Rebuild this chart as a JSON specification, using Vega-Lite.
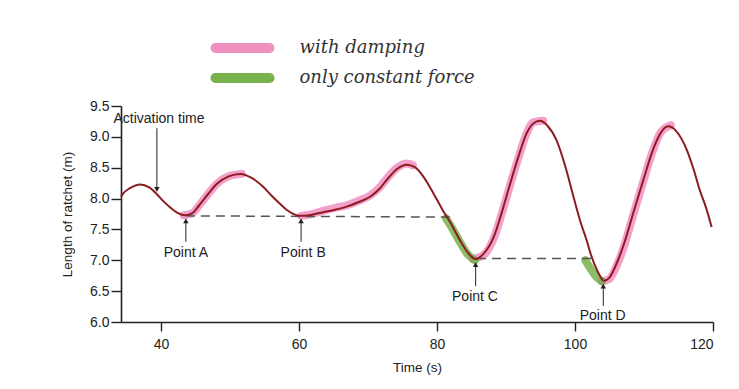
{
  "$schema": "https://vega.github.io/schema/vega-lite/v6.json",
  "width": 592,
  "height": 216,
  "autosize": {"type": "none"},
  "padding": {"left": 121, "top": 106, "right": 26, "bottom": 67},
  "background": "white",
  "config": {
    "view": {"stroke": null},
    "font": "Liberation Sans"
  },
  "datasets": {
    "curve": [
      {"t": 34.2, "L": 8.03}, {"t": 34.5, "L": 8.08}, {"t": 35.5, "L": 8.17}, {"t": 37.0, "L": 8.23},
      {"t": 38.3, "L": 8.18}, {"t": 39.4, "L": 8.07}, {"t": 40.4, "L": 7.95}, {"t": 41.3, "L": 7.86},
      {"t": 42.4, "L": 7.77}, {"t": 43.5, "L": 7.73}, {"t": 44.5, "L": 7.76}, {"t": 45.6, "L": 7.9},
      {"t": 46.8, "L": 8.07}, {"t": 48.1, "L": 8.24}, {"t": 49.8, "L": 8.36}, {"t": 51.5, "L": 8.4},
      {"t": 53.2, "L": 8.33}, {"t": 54.8, "L": 8.19}, {"t": 56.0, "L": 8.05}, {"t": 57.2, "L": 7.92},
      {"t": 58.3, "L": 7.81}, {"t": 59.4, "L": 7.74}, {"t": 60.3, "L": 7.72}, {"t": 61.5, "L": 7.73},
      {"t": 63.5, "L": 7.78}, {"t": 65.2, "L": 7.82}, {"t": 66.9, "L": 7.87}, {"t": 68.6, "L": 7.94},
      {"t": 70.3, "L": 8.03}, {"t": 71.6, "L": 8.15}, {"t": 72.7, "L": 8.3}, {"t": 74.2, "L": 8.48},
      {"t": 75.6, "L": 8.55}, {"t": 76.8, "L": 8.51}, {"t": 78.0, "L": 8.36}, {"t": 79.0, "L": 8.18},
      {"t": 80.0, "L": 7.98}, {"t": 81.0, "L": 7.78}, {"t": 81.9, "L": 7.62}, {"t": 83.3, "L": 7.33},
      {"t": 84.5, "L": 7.12}, {"t": 85.6, "L": 7.02}, {"t": 86.7, "L": 7.1}, {"t": 88.2, "L": 7.37},
      {"t": 89.4, "L": 7.78}, {"t": 90.6, "L": 8.24}, {"t": 91.8, "L": 8.68}, {"t": 93.0, "L": 9.06},
      {"t": 94.0, "L": 9.22}, {"t": 94.9, "L": 9.26}, {"t": 96.0, "L": 9.18}, {"t": 97.3, "L": 8.95},
      {"t": 98.6, "L": 8.52}, {"t": 99.8, "L": 8.02}, {"t": 100.8, "L": 7.62}, {"t": 101.7, "L": 7.32},
      {"t": 102.4, "L": 7.06}, {"t": 103.2, "L": 6.84}, {"t": 104.2, "L": 6.67}, {"t": 105.0, "L": 6.72},
      {"t": 106.0, "L": 6.94}, {"t": 107.2, "L": 7.3}, {"t": 108.4, "L": 7.75}, {"t": 109.9, "L": 8.3},
      {"t": 111.3, "L": 8.79}, {"t": 112.4, "L": 9.06}, {"t": 113.5, "L": 9.17}, {"t": 114.7, "L": 9.09},
      {"t": 116.2, "L": 8.79}, {"t": 117.2, "L": 8.47}, {"t": 118.1, "L": 8.13}, {"t": 119.0, "L": 7.85},
      {"t": 119.8, "L": 7.54}
    ],
    "highlight": [
      {"seg": 1, "kind": "with damping", "t": 43.3, "L": 7.73}, {"seg": 1, "kind": "with damping", "t": 44.5, "L": 7.76},
      {"seg": 1, "kind": "with damping", "t": 45.6, "L": 7.9}, {"seg": 1, "kind": "with damping", "t": 46.8, "L": 8.07},
      {"seg": 1, "kind": "with damping", "t": 48.1, "L": 8.24}, {"seg": 1, "kind": "with damping", "t": 49.8, "L": 8.36},
      {"seg": 1, "kind": "with damping", "t": 51.7, "L": 8.4},
      {"seg": 2, "kind": "with damping", "t": 60.3, "L": 7.72}, {"seg": 2, "kind": "with damping", "t": 61.5, "L": 7.74},
      {"seg": 2, "kind": "with damping", "t": 63.5, "L": 7.8}, {"seg": 2, "kind": "with damping", "t": 65.2, "L": 7.85},
      {"seg": 2, "kind": "with damping", "t": 66.9, "L": 7.89}, {"seg": 2, "kind": "with damping", "t": 68.6, "L": 7.96},
      {"seg": 2, "kind": "with damping", "t": 70.3, "L": 8.05}, {"seg": 2, "kind": "with damping", "t": 71.6, "L": 8.17},
      {"seg": 2, "kind": "with damping", "t": 72.7, "L": 8.32}, {"seg": 2, "kind": "with damping", "t": 74.2, "L": 8.5},
      {"seg": 2, "kind": "with damping", "t": 75.6, "L": 8.57}, {"seg": 2, "kind": "with damping", "t": 76.5, "L": 8.54},
      {"seg": 3, "kind": "with damping", "t": 85.2, "L": 7.02}, {"seg": 3, "kind": "with damping", "t": 86.7, "L": 7.08},
      {"seg": 3, "kind": "with damping", "t": 88.2, "L": 7.35}, {"seg": 3, "kind": "with damping", "t": 89.4, "L": 7.76},
      {"seg": 3, "kind": "with damping", "t": 90.6, "L": 8.22}, {"seg": 3, "kind": "with damping", "t": 91.8, "L": 8.66},
      {"seg": 3, "kind": "with damping", "t": 93.0, "L": 9.06}, {"seg": 3, "kind": "with damping", "t": 94.0, "L": 9.24},
      {"seg": 3, "kind": "with damping", "t": 95.4, "L": 9.26},
      {"seg": 4, "kind": "with damping", "t": 103.9, "L": 6.66}, {"seg": 4, "kind": "with damping", "t": 105.0, "L": 6.7},
      {"seg": 4, "kind": "with damping", "t": 106.0, "L": 6.9}, {"seg": 4, "kind": "with damping", "t": 107.2, "L": 7.26},
      {"seg": 4, "kind": "with damping", "t": 108.4, "L": 7.72}, {"seg": 4, "kind": "with damping", "t": 109.9, "L": 8.28},
      {"seg": 4, "kind": "with damping", "t": 111.3, "L": 8.78}, {"seg": 4, "kind": "with damping", "t": 112.4, "L": 9.07},
      {"seg": 4, "kind": "with damping", "t": 113.9, "L": 9.19},
      {"seg": 5, "kind": "only constant force", "t": 81.3, "L": 7.68}, {"seg": 5, "kind": "only constant force", "t": 82.3, "L": 7.5},
      {"seg": 5, "kind": "only constant force", "t": 83.3, "L": 7.3}, {"seg": 5, "kind": "only constant force", "t": 84.5, "L": 7.09},
      {"seg": 5, "kind": "only constant force", "t": 85.5, "L": 7.0},
      {"seg": 6, "kind": "only constant force", "t": 101.5, "L": 7.0}, {"seg": 6, "kind": "only constant force", "t": 102.4, "L": 6.84},
      {"seg": 6, "kind": "only constant force", "t": 103.2, "L": 6.72}, {"seg": 6, "kind": "only constant force", "t": 103.9, "L": 6.66}
    ],
    "dashes": [
      {"seg": 1, "t": 43.6, "L": 7.72}, {"seg": 1, "t": 82.4, "L": 7.7},
      {"seg": 2, "t": 85.8, "L": 7.03}, {"seg": 2, "t": 102.9, "L": 7.03}
    ],
    "arrows": [
      {"name": "act", "t": 39.4, "L": 9.14, "L2": 8.12},
      {"name": "A", "t": 43.6, "L": 7.3, "L2": 7.66},
      {"name": "B", "t": 60.3, "L": 7.3, "L2": 7.66},
      {"name": "C", "t": 85.6, "L": 6.58, "L2": 6.95},
      {"name": "D", "t": 104.1, "L": 6.26, "L2": 6.6}
    ],
    "heads": [
      {"name": "act", "t": 39.4, "L": 8.15, "dir": "down"},
      {"name": "A", "t": 43.6, "L": 7.64, "dir": "up"},
      {"name": "B", "t": 60.3, "L": 7.64, "dir": "up"},
      {"name": "C", "t": 85.6, "L": 6.93, "dir": "up"},
      {"name": "D", "t": 104.1, "L": 6.58, "dir": "up"}
    ],
    "labels": [
      {"text": "Activation time", "t": 39.7, "L": 9.29},
      {"text": "Point A", "t": 43.6, "L": 7.12},
      {"text": "Point B", "t": 60.6, "L": 7.12},
      {"text": "Point C", "t": 85.5, "L": 6.41},
      {"text": "Point D", "t": 104.0, "L": 6.1}
    ]
  },
  "encoding": {
    "x": {"field": "t", "type": "quantitative", "scale": {"domain": [34.2, 120], "nice": false, "zero": false},
          "axis": {"values": [40, 60, 80, 100, 120], "title": "Time (s)", "grid": false,
                   "domainColor": "#222", "domainWidth": 1.6, "tickColor": "#222", "tickWidth": 1.4, "tickSize": 9,
                   "labelFont": "Liberation Sans", "labelFontSize": 14, "labelColor": "#222", "labelPadding": 6, "labelOverlap": false,
                   "titleFont": "Liberation Sans", "titleFontSize": 13.5, "titleFontWeight": "normal", "titleColor": "#222", "titlePadding": 9}},
    "y": {"field": "L", "type": "quantitative", "scale": {"domain": [6, 9.5], "nice": false, "zero": false},
          "axis": {"values": [6, 6.5, 7, 7.5, 8, 8.5, 9, 9.5], "format": ".1f", "title": "Length of ratchet (m)", "grid": false,
                   "domainColor": "#222", "domainWidth": 1.6, "tickColor": "#222", "tickWidth": 1.4, "tickSize": 10,
                   "labelFont": "Liberation Sans", "labelFontSize": 14, "labelColor": "#222", "labelPadding": 2, "labelOverlap": false, "labelFlush": false,
                   "titleFont": "Liberation Sans", "titleFontSize": 13.5, "titleFontWeight": "normal", "titleColor": "#222", "titlePadding": 15}}
  },
  "layer": [
    {
      "data": {"name": "highlight"},
      "mark": {"type": "line", "strokeWidth": 8, "strokeCap": "round", "strokeJoin": "round", "opacity": 0.78, "interpolate": "monotone"},
      "encoding": {
        "color": {"field": "kind", "type": "nominal",
                  "scale": {"domain": ["with damping", "only constant force"], "range": ["#ef86bb", "#6aaa3c"]},
                  "legend": {"title": null, "orient": "none", "legendX": 111.5, "legendY": -68,
                             "symbolType": "M-5.4,0L5.4,0", "symbolSize": 100, "symbolStrokeWidth": 10, "symbolOpacity": 0.9,
                             "labelFont": "DejaVu Serif", "labelFontStyle": "italic", "labelFontSize": 18, "labelColor": "#333",
                             "labelOffset": 47, "labelLimit": 400, "rowPadding": -12,
                             "encode": {"symbols": {"update": {"strokeCap": {"value": "round"}}}}}},
        "detail": {"field": "seg", "type": "nominal"}
      }
    },
    {
      "data": {"name": "dashes"},
      "mark": {"type": "line", "stroke": "#555", "strokeWidth": 1.5, "strokeDash": [9, 6]},
      "encoding": {
        "detail": {"field": "seg", "type": "nominal"}
      }
    },
    {
      "data": {"name": "curve"},
      "mark": {"type": "line", "stroke": "#8e1b22", "strokeWidth": 2, "interpolate": "monotone"},
      "encoding": {}
    },
    {
      "data": {"name": "arrows"},
      "mark": {"type": "rule", "stroke": "#222", "strokeWidth": 1},
      "encoding": {
        "y2": {"field": "L2"}
      }
    },
    {
      "data": {"name": "heads"},
      "mark": {"type": "point", "filled": true, "color": "#222", "size": 30, "opacity": 1},
      "encoding": {
        "shape": {"field": "dir", "type": "nominal", "scale": {"domain": ["up", "down"], "range": ["triangle-up", "triangle-down"]}, "legend": null}
      }
    },
    {
      "data": {"name": "labels"},
      "mark": {"type": "text", "font": "Liberation Sans", "fontSize": 14, "color": "#222", "align": "center", "baseline": "middle"},
      "encoding": {
        "text": {"field": "text"}
      }
    }
  ]
}
